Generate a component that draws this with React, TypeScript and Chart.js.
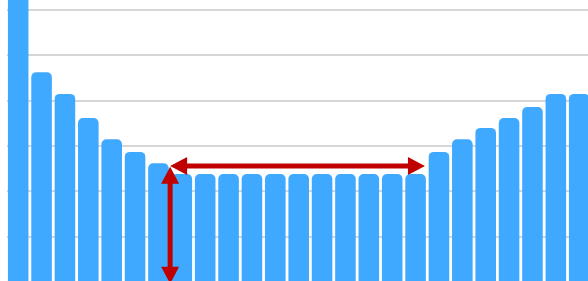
import React, { useEffect, useRef } from "react";
import { Chart, registerables } from "chart.js";

Chart.register(...registerables);

const categories: string[] = Array.from({ length: 25 }, (_, i) => String(i + 1));
const values: number[] = [
  70, 46.3, 41.5, 36.2, 31.5, 28.7, 26.2,
  23.8, 23.8, 23.8, 23.8, 23.8, 23.8, 23.8, 23.8, 23.8, 23.8, 23.8,
  28.7, 31.5, 34, 36.2, 38.6, 41.5, 41.5,
];
const yTicks: number[] = [0, 10, 20, 30, 40, 50, 60, 70];
// annotation arrows: [category index position, value]
const hArrowX: number[] = [6.5, 17.4];
const hArrowY: number[] = [25.6];
const vArrowX: number[] = [6.5];
const vArrowY: number[] = [25.4, -0.4];

const BAR_COLOR = "#3fa9ff";
const ARROW_COLOR = "#c00000";

function drawArrow(ctx: CanvasRenderingContext2D, x1: number, y1: number, x2: number, y2: number) {
  const head = 17;
  const half = 9;
  const shaft = 5;
  const dx = x2 - x1;
  const dy = y2 - y1;
  const len = Math.hypot(dx, dy);
  const ux = dx / len;
  const uy = dy / len;
  const px = -uy;
  const py = ux;
  ctx.save();
  ctx.strokeStyle = ARROW_COLOR;
  ctx.fillStyle = ARROW_COLOR;
  ctx.lineWidth = shaft;
  ctx.beginPath();
  ctx.moveTo(x1 + ux * head * 0.8, y1 + uy * head * 0.8);
  ctx.lineTo(x2 - ux * head * 0.8, y2 - uy * head * 0.8);
  ctx.stroke();
  const tri = (tx: number, ty: number, dirx: number, diry: number) => {
    ctx.beginPath();
    ctx.moveTo(tx, ty);
    ctx.lineTo(tx - dirx * head + px * half, ty - diry * head + py * half);
    ctx.lineTo(tx - dirx * head - px * half, ty - diry * head - py * half);
    ctx.closePath();
    ctx.fill();
  };
  tri(x2, y2, ux, uy);
  tri(x1, y1, -ux, -uy);
  ctx.restore();
}

const arrowPlugin = {
  id: "arrows",
  afterDatasetsDraw(chart: any) {
    const { ctx, scales } = chart;
    const xs = scales.x;
    const ys = scales.y;
    drawArrow(
      ctx,
      xs.getPixelForValue(hArrowX[0]),
      ys.getPixelForValue(hArrowY[0]),
      xs.getPixelForValue(hArrowX[1]),
      ys.getPixelForValue(hArrowY[0])
    );
    drawArrow(
      ctx,
      xs.getPixelForValue(vArrowX[0]),
      ys.getPixelForValue(vArrowY[0]),
      xs.getPixelForValue(vArrowX[0]),
      ys.getPixelForValue(vArrowY[1])
    );
  },
};

export default function App() {
  const ref = useRef<HTMLCanvasElement>(null);
  useEffect(() => {
    if (!ref.current) return;
    const chart = new Chart(ref.current, {
      type: "bar",
      data: {
        labels: categories,
        datasets: [
          {
            data: values,
            backgroundColor: BAR_COLOR,
            borderWidth: 0,
            borderRadius: { topLeft: 5, topRight: 5, bottomLeft: 0, bottomRight: 0 },
            borderSkipped: false,
            barPercentage: 0.88,
            categoryPercentage: 1,
          },
        ],
      },
      options: {
        animation: false,
        responsive: false,
        devicePixelRatio: 1,
        layout: { padding: { left: 6.5, right: 9.1, top: 14.7, bottom: 8 } },
        plugins: { legend: { display: false }, tooltip: { enabled: false } },
        scales: {
          x: { display: false },
          y: {
            display: true,
            min: yTicks[0],
            max: yTicks[yTicks.length - 1],
            ticks: { display: false, stepSize: 10 },
            grid: { color: "#d6d6d6", lineWidth: 2, drawTicks: false },
            border: { display: false },
          },
        },
      },
      plugins: [arrowPlugin],
    });
    return () => chart.destroy();
  }, []);
  return (
    <div
      style={{
        position: "fixed",
        left: 0,
        top: 0,
        width: 588,
        height: 281,
        overflow: "hidden",
        background: "#fff",
      }}
    >
      <canvas
        ref={ref}
        width={600}
        height={340}
        style={{ position: "absolute", left: 0, top: -50, width: 600, height: 340 }}
      />
    </div>
  );
}
